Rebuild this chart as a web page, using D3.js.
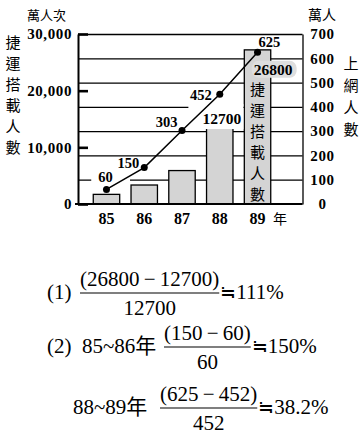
<!DOCTYPE html>
<html>
<head>
<meta charset="utf-8">
<script src="https://cdn.jsdelivr.net/npm/d3@7"></script>
<style>
body { margin: 0; background: #fff; }
svg { display: block; }
.num { font-family: "Liberation Serif", "Times New Roman", serif; font-weight: bold; fill: #000; }
.cjk { font-family: "Noto Sans CJK TC", sans-serif; fill: #000; }
.formula { font-family: "Liberation Serif", "Noto Sans CJK TC", serif; font-size: 21px; fill: #000; }
.approx { font-family: "Noto Sans CJK TC", sans-serif; font-size: 19px; }
</style>
</head>
<body>
<div id="chart"></div>
<script>
// data
var years = ["85", "86", "87", "88", "89"];
var rides = [1700, 3350, 5900, 13400, 27200];      // 捷運搭載人數 (萬人次)
var rideLabels = ["", "", "", "12700", "26800"];
var users = [60, 150, 303, 452, 625];               // 上網人數 (萬人)
var leftTicks = [0, 10000, 20000, 30000];
var rightTicks = [0, 100, 200, 300, 400, 500, 600, 700];

// label placement next to each point
var userDx = [-1, -5, -4.5, -8, 1];
var userDy = [-7, 0.5, -3.5, 6, -5];
var userAnchor = ["middle", "end", "end", "end", "start"];

var svgWidth = 361, svgHeight = 436;
var plot = { left: 78, right: 302.5, top: 34, bottom: 204 };

var svg = d3.select("#chart").append("svg")
    .attr("width", svgWidth)
    .attr("height", svgHeight);

var x = d3.scaleBand()
    .domain(years)
    .range([87.6, 276.4])
    .paddingInner(0.3)
    .paddingOuter(0.15);

var yLeft = d3.scaleLinear().domain([0, 30000]).range([plot.bottom, plot.top]);
var yRight = d3.scaleLinear().domain([0, 700]).range([plot.bottom, plot.top]);

// gridlines (behind bars)
var grid = svg.append("g")
    .attr("transform", `translate(${plot.right},0)`)
    .call(d3.axisLeft(yRight)
        .tickValues(rightTicks.slice(1))
        .tickSize(plot.right - plot.left)
        .tickFormat(""));
grid.select(".domain").remove();
grid.selectAll("line").attr("stroke", "#000").attr("stroke-width", 1.3);

// right axis
var rightAxis = svg.append("g")
    .attr("transform", `translate(${plot.right},0)`)
    .call(d3.axisRight(yRight).tickValues(rightTicks).tickSize(0).tickSizeOuter(0).tickPadding(20));
rightAxis.select(".domain").attr("stroke", "#000").attr("stroke-width", 1.3);
rightAxis.selectAll("text")
    .attr("class", "num")
    .attr("text-anchor", "middle")
    .style("font-size", "15px")
    .style("letter-spacing", "0.6px");

// bars
svg.selectAll(".bar")
    .data(rides)
    .enter()
    .append("rect")
    .attr("class", "bar")
    .attr("x", (d, i) => x(years[i]))
    .attr("y", d => yLeft(d))
    .attr("width", x.bandwidth())
    .attr("height", d => plot.bottom - yLeft(d))
    .attr("fill", "#d4d4d4")
    .attr("stroke", "#000")
    .attr("stroke-width", 1.3);

// left axis
var leftAxis = svg.append("g")
    .attr("transform", `translate(${plot.left},0)`)
    .call(d3.axisLeft(yLeft).tickValues(leftTicks).tickSize(-10).tickSizeOuter(0).tickPadding(6).tickFormat(d3.format(",")));
leftAxis.select(".domain").attr("stroke", "#000").attr("stroke-width", 2);
leftAxis.selectAll("line").attr("stroke", "#000").attr("stroke-width", 2.6);
leftAxis.selectAll("text")
    .attr("class", "num")
    .style("font-size", "15px")
    .style("letter-spacing", "0.6px");

// bottom axis
svg.append("line")
    .attr("x1", plot.left - 3).attr("x2", plot.right)
    .attr("y1", plot.bottom).attr("y2", plot.bottom)
    .attr("stroke", "#000").attr("stroke-width", 2);

var bottomAxis = svg.append("g")
    .attr("transform", `translate(0,${plot.bottom})`)
    .call(d3.axisBottom(x).tickSize(0).tickPadding(9));
bottomAxis.select(".domain").remove();
bottomAxis.selectAll("text")
    .attr("class", "num")
    .style("font-size", "16px");

svg.append("text")
    .attr("class", "cjk")
    .attr("x", 280).attr("y", 224)
    .attr("text-anchor", "middle")
    .style("font-size", "14px")
    .text("年");

// bar labels
var cx = i => x(years[i]) + x.bandwidth() / 2;
var last = rides.length - 1;

rideLabels.forEach(function (lab, i) {
    if (!lab) return;
    var g = svg.append("g");
    if (i === last) {
        var t = g.append("text")
            .attr("class", "num")
            .attr("x", cx(i) + 15.5)
            .attr("y", yLeft(rides[i]) + 25)
            .attr("text-anchor", "middle")
            .style("font-size", "15.5px")
            .text(lab);
        var b = t.node().getBBox();
        g.insert("rect", "text")
            .attr("x", b.x - 2).attr("y", b.y)
            .attr("width", b.width + 6).attr("height", b.height)
            .attr("rx", 7)
            .attr("fill", "#dedede");
    } else {
        var t = g.append("text")
            .attr("class", "num")
            .attr("x", cx(i) + 2)
            .attr("y", yLeft(rides[i]) - 4)
            .attr("text-anchor", "middle")
            .style("font-size", "15.5px")
            .text(lab);
        var b = t.node().getBBox();
        g.insert("rect", "text")
            .attr("x", b.x - 14).attr("y", b.y - 6)
            .attr("width", b.width + 16).attr("height", b.height + 8)
            .attr("fill", "#fff");
    }
});

// vertical text inside tallest bar
var barTitle = "捷運搭載人數".split("");
svg.append("g").selectAll("text")
    .data(barTitle)
    .enter()
    .append("text")
    .attr("class", "cjk")
    .attr("x", cx(last))
    .attr("y", (d, i) => 95 + i * 21)
    .attr("text-anchor", "middle")
    .style("font-size", "15px")
    .text(d => d);

// line
var line = d3.line()
    .x((d, i) => cx(i))
    .y(d => yRight(d));

// white box behind the 60 label
var g60 = svg.append("g");

svg.append("path")
    .datum(users)
    .attr("d", line)
    .attr("fill", "none")
    .attr("stroke", "#000")
    .attr("stroke-width", 1.5);

svg.selectAll(".pt")
    .data(users)
    .enter()
    .append("circle")
    .attr("class", "pt")
    .attr("cx", (d, i) => cx(i))
    .attr("cy", d => yRight(d))
    .attr("r", 3.5)
    .attr("fill", "#000");

var userText = svg.selectAll(".ulab")
    .data(users)
    .enter()
    .append("text")
    .attr("class", "num ulab")
    .attr("x", (d, i) => cx(i) + userDx[i])
    .attr("y", (d, i) => yRight(d) + userDy[i])
    .attr("text-anchor", (d, i) => userAnchor[i])
    .style("font-size", "14.5px")
    .text(d => d);

var b60 = userText.nodes()[0].getBBox();
g60.append("rect")
    .attr("x", b60.x - 7).attr("y", b60.y - 1)
    .attr("width", x(years[1]) - b60.x + 6).attr("height", b60.height + 3)
    .attr("fill", "#fff");

// axis titles
svg.append("text").attr("class", "cjk")
    .attr("x", 27).attr("y", 20)
    .style("font-size", "13px")
    .text("萬人次");

svg.append("text").attr("class", "cjk")
    .attr("x", 308).attr("y", 20)
    .style("font-size", "14px")
    .text("萬人");

svg.append("g").selectAll("text")
    .data("捷運搭載人數".split(""))
    .enter()
    .append("text")
    .attr("class", "cjk")
    .attr("x", 13)
    .attr("y", (d, i) => 48 + i * 21)
    .attr("text-anchor", "middle")
    .style("font-size", "15px")
    .text(d => d);

svg.append("g").selectAll("text")
    .data("上網人數".split(""))
    .enter()
    .append("text")
    .attr("class", "cjk")
    .attr("x", 351)
    .attr("y", (d, i) => 69 + i * 22)
    .attr("text-anchor", "middle")
    .style("font-size", "15px")
    .text(d => d);

// growth formulas
var rows = [
    { tag: "(1)", pre: "", num: "(26800\u2009\u2212\u200912700)", den: "12700", res: "111%", fx: 80, cy: 293 },
    { tag: "(2)", pre: "85~86年", num: "(150\u2009\u2212\u200960)", den: "60", res: "150%", fx: 164, cy: 347 },
    { tag: "", pre: "88~89年", num: "(625\u2009\u2212\u2009452)", den: "452", res: "38.2%", fx: 160, cy: 408 }
];

rows.forEach(function (r) {
    if (r.tag) {
        svg.append("text").attr("class", "formula")
            .attr("x", 47).attr("y", r.cy + 6).text(r.tag);
    }
    if (r.pre) {
        svg.append("text").attr("class", "formula")
            .attr("x", r.tag ? 82 : 73).attr("y", r.cy + 6).text(r.pre);
    }
    var n = svg.append("text").attr("class", "formula")
        .attr("x", r.fx).attr("y", r.cy - 7).text(r.num);
    var w = n.node().getComputedTextLength();
    svg.append("line")
        .attr("x1", r.fx).attr("x2", r.fx + w)
        .attr("y1", r.cy).attr("y2", r.cy)
        .attr("stroke", "#000").attr("stroke-width", 1.2);
    svg.append("text").attr("class", "formula")
        .attr("x", r.fx + w / 2).attr("y", r.cy + 22)
        .attr("text-anchor", "middle").text(r.den);
    var res = svg.append("text").attr("class", "formula")
        .attr("x", r.fx + w + 1).attr("y", r.cy + 6);
    res.append("tspan").attr("class", "approx").text("\u2252");
    res.append("tspan").text(r.res);
});
</script>
</body>
</html>
